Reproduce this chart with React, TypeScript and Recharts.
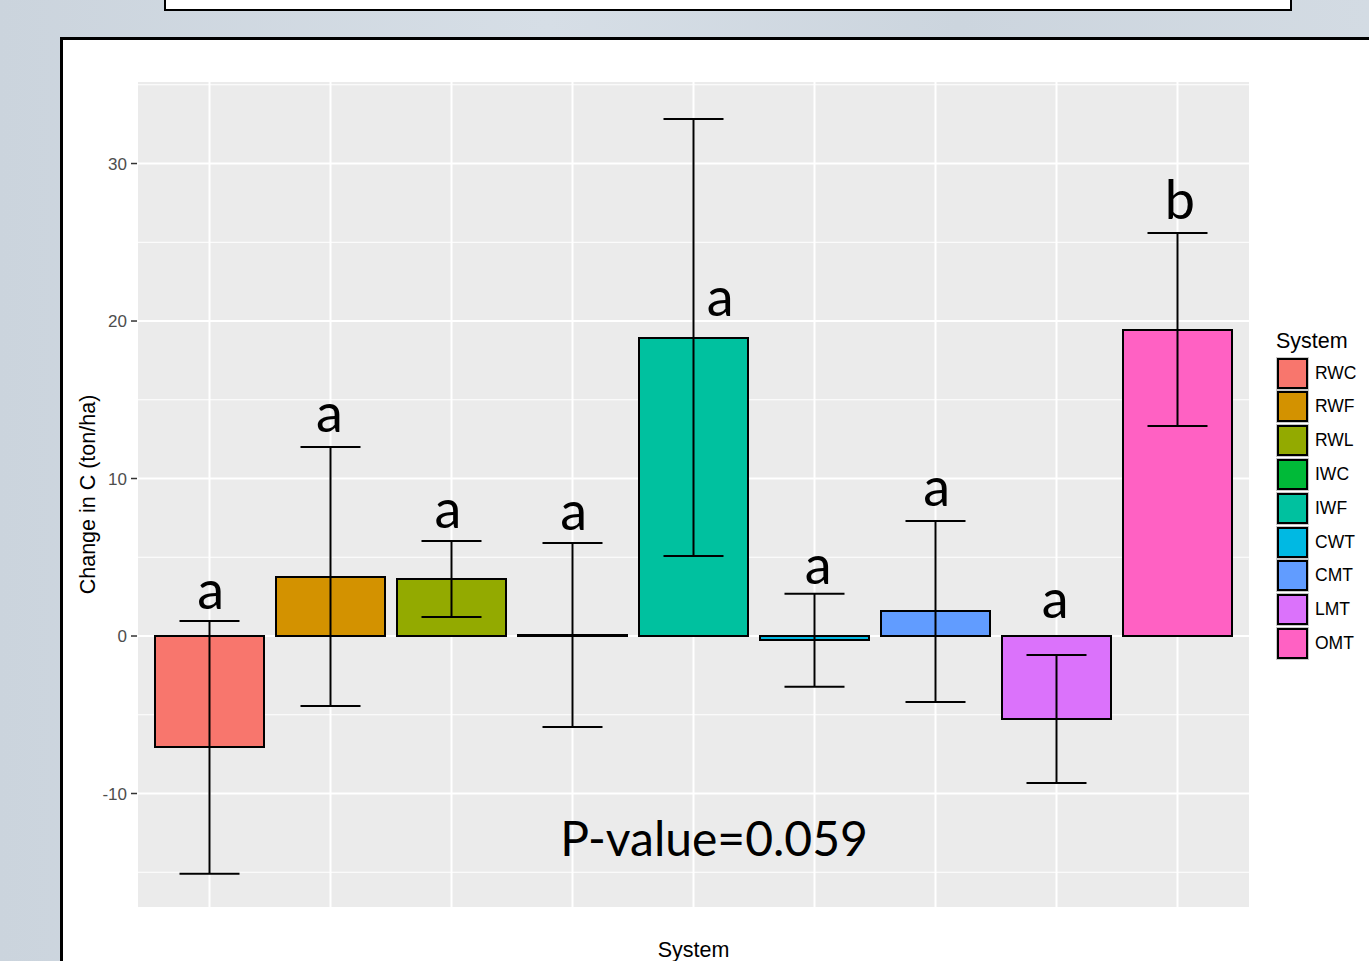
import React from 'react';
import {
  ComposedChart,
  Bar,
  Cell,
  ErrorBar,
  XAxis,
  YAxis,
  CartesianGrid,
  Scatter,
} from 'recharts';

const categories = ['RWC', 'RWF', 'RWL', 'IWC', 'IWF', 'CWT', 'CMT', 'LMT', 'OMT'];
const colors = ['#F8766D', '#D39200', '#93AA00', '#00BA38', '#00C19F', '#00B9E3', '#619CFF', '#DB72FB', '#FF61C3'];
const means = [-7.05, 3.75, 3.62, 0.06, 18.92, -0.25, 1.59, -5.27, 19.43];
const lower = [-15.1, -4.44, 1.21, -5.78, 5.08, -3.22, -4.19, -9.33, 13.33];
const upper = [0.95, 12.0, 6.03, 5.9, 32.83, 2.69, 7.3, -1.21, 25.59];
const letters = ['a', 'a', 'a', 'a', 'a', 'a', 'a', 'a', 'b'];
const letterY = [1.71, 12.95, 6.86, 6.73, 20.3, 3.3, 8.25, 1.14, 26.5];
const letterDx = [0.01, -0.01, -0.03, 0.01, 0.22, 0.03, 0.01, -0.01, 0.02];
const yTicks = [-10, 0, 10, 20, 30];
const yMinorTicks = [-15, -5, 5, 15, 25, 35];
const yDomain = [-17.27, 35.24];
const pValueText = 'P-value=0.059';
const pValueX = 5.17;
const pValueY = -13.97;

const barData = categories.map((name, i) => ({
  name,
  value: means[i],
  err: [means[i] - lower[i], upper[i] - means[i]],
}));

const letterData = categories.map((name, i) => ({
  x: i + 1 + letterDx[i],
  y: letterY[i],
  label: letters[i],
}));

const pData = [{ x: pValueX, y: pValueY, label: pValueText }];

const sans = '"Liberation Sans", Arial, Helvetica, sans-serif';
const display = 'Lato, "Noto Sans", sans-serif';

const LetterShape = (props: any) => (
  <text
    x={props.cx}
    y={props.cy}
    textAnchor="middle"
    fontSize={54}
    fontFamily={display}
    fill="#000"
  >
    {props.payload.label}
  </text>
);

const PShape = (props: any) => (
  <text
    x={props.cx}
    y={props.cy}
    textAnchor="middle"
    fontSize={48}
    fontFamily={display}
    fill="#000"
  >
    {props.payload.label}
  </text>
);

const EmptyTick = () => <g />;

export default function App() {
  return (
    <div
      style={{
        position: 'absolute',
        left: 0,
        top: 0,
        width: 1369,
        height: 961,
        overflow: 'hidden',
        background: 'linear-gradient(90deg, #cbd4dd 0%, #d6dee6 40%, #ccd5de 70%, #d3dbe3 100%)',
      }}
    >
      <div
        style={{
          position: 'absolute',
          left: 164,
          top: -12,
          width: 1124,
          height: 19,
          background: '#fff',
          border: '2px solid #000',
        }}
      />
      <div
        style={{
          position: 'absolute',
          left: 60,
          top: 37,
          width: 1400,
          height: 1000,
          background: '#fff',
          borderLeft: '3px solid #000',
          borderTop: '3px solid #000',
        }}
      />
      <div style={{ position: 'absolute', left: 0, top: 0 }}>
        <ComposedChart
          width={1369}
          height={961}
          data={barData}
          margin={{ top: 81, right: 119, bottom: 0, left: 67 }}
        >
          <CartesianGrid fill="#EBEBEB" stroke="#fff" strokeWidth={2} />
          <CartesianGrid
            fill="none"
            stroke="#fff"
            strokeWidth={1}
            vertical={false}
            horizontalValues={yMinorTicks}
          />
          <XAxis
            dataKey="name"
            type="category"
            padding={{ left: 12, right: 12 }}
            height={53}
            axisLine={false}
            tickLine={false}
            tick={EmptyTick}
            label={{
              value: 'System',
              position: 'insideBottom',
              offset: 4,
              fontSize: 21.5,
              fontFamily: sans,
              fill: '#000',
            }}
          />
          <XAxis xAxisId="num" dataKey="x" type="number" domain={[0.4, 9.6]} allowDataOverflow hide />
          <YAxis
            width={70}
            domain={yDomain}
            allowDataOverflow
            ticks={yTicks}
            axisLine={false}
            tickLine={{ stroke: '#333', strokeWidth: 1.5 }}
            tickSize={6}
            tickMargin={4}
            tick={{ fontSize: 17, fontFamily: sans, fill: '#4d4d4d' }}
            label={{
              value: 'Change in C (ton/ha)',
              angle: -90,
              position: 'insideLeft',
              offset: 20,
              fontSize: 21.5,
              fontFamily: sans,
              fill: '#000',
              style: { textAnchor: 'middle' },
            }}
          />
          <Bar dataKey="value" barSize={109} stroke="#000" strokeWidth={2} isAnimationActive={false}>
            {barData.map((d, i) => (
              <Cell key={d.name} fill={colors[i]} />
            ))}
            <ErrorBar dataKey="err" width={30} stroke="#000" strokeWidth={2} direction="y" />
          </Bar>
          <Scatter
            xAxisId="num"
            data={letterData}
            dataKey="y"
            shape={LetterShape}
            isAnimationActive={false}
          />
          <Scatter
            xAxisId="num"
            data={pData}
            dataKey="y"
            shape={PShape}
            isAnimationActive={false}
          />
        </ComposedChart>
      </div>
      <div style={{ position: 'absolute', left: 1276, top: 329, fontFamily: sans, fontSize: 21.5, color: '#000' }}>
        System
      </div>
      {categories.map((c, i) => (
        <div
          key={c}
          style={{
            position: 'absolute',
            left: 1277,
            top: 356 + i * 33.8,
            height: 34,
            display: 'flex',
            alignItems: 'center',
          }}
        >
          <div
            style={{
              width: 31,
              height: 31,
              boxSizing: 'border-box',
              background: colors[i],
              border: '2px solid #000',
              outline: '1px solid #c8c8c8',
            }}
          />
          <span style={{ marginLeft: 7, fontFamily: sans, fontSize: 17.5, color: '#000' }}>{c}</span>
        </div>
      ))}
    </div>
  );
}
